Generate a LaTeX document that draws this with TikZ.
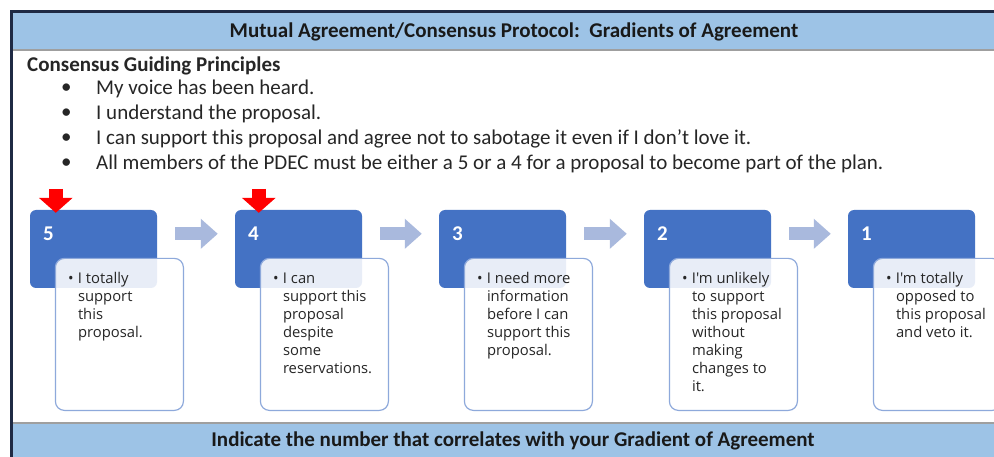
\documentclass[tikz,border=0pt]{standalone}
\usepackage{fontspec}
\setmainfont{Carlito}
\newfontfamily\boxfont{Open Sans}
\usetikzlibrary{arrows.meta,positioning}

\definecolor{bandblue}{HTML}{9DC3E6}
\definecolor{stepblue}{HTML}{4472C4}
\definecolor{edgeblue}{HTML}{8EA9DB}
\definecolor{flowblue}{HTML}{A9B9DD}
\definecolor{framenavy}{HTML}{1F2A44}
\definecolor{bodytext}{HTML}{262626}

\tikzset{
  numbox/.style={fill=stepblue, rounded corners=6pt, minimum width=127pt, minimum height=78pt, inner sep=0pt},
  numlabel/.style={text=white, font=\bfseries\fontsize{21}{21}\selectfont, anchor=west, inner sep=0pt},
  descbox/.style={draw=edgeblue, line width=1.2pt, fill=white, fill opacity=0.88, rounded corners=9pt, minimum width=128pt, minimum height=152pt, inner sep=0pt, anchor=north west},
  desctext/.style={anchor=base west, inner sep=0pt, text=bodytext, font=\boxfont\fontsize{14.8}{18}\selectfont},
  steparrow/.style={draw=flowblue, line width=13pt, -{Triangle[width=29pt,length=17pt]}, shorten <=18pt, shorten >=17pt},
  pointer/.style={draw=red, line width=14pt, -{Triangle[width=33pt,length=15pt]}},
  bandtext/.style={font=\bfseries\fontsize{21}{21}\selectfont, text=black!90},
  principle/.style={anchor=west, inner sep=0pt, text=bodytext, font=\fontsize{21}{21}\selectfont}
}

\begin{document}
\begin{tikzpicture}[x=1pt, y=-1pt]
\clip (0,0) rectangle (994,457);
\fill[white] (0,0) rectangle (994,457);
% bands and frame
\fill[bandblue] (12,12) rectangle (994,50);
\fill[bandblue] (12,423) rectangle (994,457);
\draw[gray!75, line width=2pt] (12,50.5) -- (994,50.5);
\draw[gray!75, line width=2pt] (12,422.5) -- (994,422.5);
\draw[framenavy, line width=2.5pt] (11.5,470) -- (11.5,11.5) -- (1000,11.5);
\node[bandtext] (title) at (514,32) {Mutual Agreement/Consensus Protocol:\ \ Gradients of Agreement};
\node[bandtext] (footer) at (513,441) {Indicate the number that correlates with your Gradient of Agreement};

% guiding principles
\node[principle, font=\bfseries\fontsize{21}{21}\selectfont] (heading) at (27,66) {Consensus Guiding Principles};
\node[principle] (b1) at (61,89) {\textbullet};
\node[principle] (p1) at (96,89) {My voice has been heard.};
\node[principle] (b2) at (61,114) {\textbullet};
\node[principle] (p2) at (96,114) {I understand the proposal.};
\node[principle] (b3) at (61,139) {\textbullet};
\node[principle] (p3) at (96,139) {I can support this proposal and agree not to sabotage it even if I don't love it.};
\node[principle] (b4) at (61,164) {\textbullet};
\node[principle] (p4) at (96,164) {All members of the PDEC must be either a 5 or a 4 for a proposal to become part of the plan.};

% gradient steps
\node[numbox] (n5) at (93.5,249) {};
\node[numbox] (n4) at (298.5,249) {};
\node[numbox] (n3) at (502.5,249) {};
\node[numbox] (n2) at (707.5,249) {};
\node[numbox] (n1) at (911.5,249) {};
\node[numlabel] (l5) at ([xshift=13pt,yshift=-24pt]n5.north west) {5};
\node[numlabel] (l4) at ([xshift=13pt,yshift=-24pt]n4.north west) {4};
\node[numlabel] (l3) at ([xshift=13pt,yshift=-24pt]n3.north west) {3};
\node[numlabel] (l2) at ([xshift=13pt,yshift=-24pt]n2.north west) {2};
\node[numlabel] (l1) at ([xshift=13pt,yshift=-24pt]n1.north west) {1};

\draw[steparrow] (n5.east |- l5) -- (n4.west |- l5);
\draw[steparrow] (n4.east |- l4) -- (n3.west |- l4);
\draw[steparrow] (n3.east |- l3) -- (n2.west |- l3);
\draw[steparrow] (n2.east |- l2) -- (n1.west |- l2);

\node[descbox] (d5) at ([xshift=25pt,yshift=-48pt]n5.north west) {};
\node[descbox] (d4) at ([xshift=25pt,yshift=-48pt]n4.north west) {};
\node[descbox] (d3) at ([xshift=25pt,yshift=-48pt]n3.north west) {};
\node[descbox] (d2) at ([xshift=25pt,yshift=-48pt]n2.north west) {};
\node[descbox] (d1) at ([xshift=25pt,yshift=-48pt]n1.north west) {};
\node[desctext] (t5) at ([xshift=13pt,yshift=-26pt]d5.north west) {\makebox[10pt][l]{\textbullet}\parbox[t]{100pt}{I totally\\support\\this\\proposal.}};
\node[desctext] (t4) at ([xshift=13pt,yshift=-26pt]d4.north west) {\makebox[10pt][l]{\textbullet}\parbox[t]{100pt}{I can\\support this\\proposal\\despite\\some\\reservations.}};
\node[desctext] (t3) at ([xshift=13pt,yshift=-26pt]d3.north west) {\makebox[10pt][l]{\textbullet}\parbox[t]{100pt}{I need more\\information\\before I can\\support this\\proposal.}};
\node[desctext] (t2) at ([xshift=13pt,yshift=-26pt]d2.north west) {\makebox[10pt][l]{\textbullet}\parbox[t]{100pt}{I'm unlikely\\to support\\this proposal\\without\\making\\changes to\\it.}};
\node[desctext] (t1) at ([xshift=13pt,yshift=-26pt]d1.north west) {\makebox[10pt][l]{\textbullet}\parbox[t]{100pt}{I'm totally\\opposed to\\this proposal\\and veto it.}};

% current choice markers
\coordinate (m5) at ([xshift=26pt,yshift=21pt]n5.north west);
\coordinate (m4) at ([xshift=24pt,yshift=21pt]n4.north west);
\draw[pointer] (m5) -- ([yshift=-3pt]m5 |- n5.north);
\draw[pointer] (m4) -- ([yshift=-3pt]m4 |- n4.north);
\end{tikzpicture}
\end{document}
